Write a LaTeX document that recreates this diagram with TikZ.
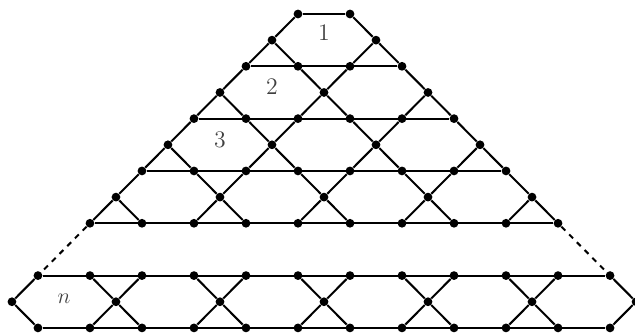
\documentclass[tikz,border=0pt]{standalone}
\usepackage{tikz}

\begin{document}
\begin{tikzpicture}[
  x=0.5cm, y=-0.503cm,
  dot/.style={circle, fill=black, inner sep=0pt, minimum size=4.8pt},
  edge/.style={line width=1.1pt, draw=black},
  lbl/.style={font=\fontsize{13}{15}\selectfont, text=black!75}
]
\useasboundingbox (-12.46,-0.535) rectangle (11.96,12.24);

% --- Rows of the triangle ---
\foreach \v in {0,2,4,6,8} {
  \pgfmathtruncatemacro\lo{11-\v}
  \pgfmathtruncatemacro\nx{13-\v}
  \pgfmathtruncatemacro\hi{13+\v}
  \foreach \i in {\lo,\nx,...,\hi}
    \node[dot] (n\v-\i) at (\i-12,\v) {};
}

% --- Last band ---
\foreach \v in {10,12}
  \foreach \i in {1,3,...,23}
    \node[dot] (n\v-\i) at (\i-12,\v) {};

% --- Middle vertices ---
\foreach \v in {1,3,5,7,11} {
  \pgfmathtruncatemacro\lo{11-\v}
  \pgfmathtruncatemacro\nx{15-\v}
  \pgfmathtruncatemacro\hi{13+\v}
  \foreach \i in {\lo,\nx,...,\hi}
    \node[dot] (n\v-\i) at (\i-12,\v) {};
}

% --- Horizontal edges ---
\foreach \v in {0,2,4,6,8} {
  \pgfmathtruncatemacro\lo{11-\v}
  \pgfmathtruncatemacro\hi{13+\v}
  \draw[edge] (n\v-\lo) -- (n\v-\hi);
}
\draw[edge] (n10-1) -- (n10-23);
\draw[edge] (n12-1) -- (n12-23);

% --- Diagonal edges ---
\foreach \v in {1,3,5,7,11} {
  \pgfmathtruncatemacro\lo{11-\v}
  \pgfmathtruncatemacro\nx{15-\v}
  \pgfmathtruncatemacro\hi{13+\v}
  \pgfmathtruncatemacro\up{\v-1}
  \pgfmathtruncatemacro\dn{\v+1}
  \foreach \i in {\lo,\nx,...,\hi} {
    \foreach \d in {-1,1} {
      \pgfmathtruncatemacro\j{\i+\d}
      \ifnum\j>\numexpr11-\v\relax \ifnum\j<\numexpr13+\v\relax
        \draw[edge] (n\v-\i) -- (n\up-\j);
      \fi\fi
      \ifnum\j>0 \ifnum\j<24
        \draw[edge] (n\v-\i) -- (n\dn-\j);
      \fi\fi
    }
  }
}

% --- Gap ---
\draw[edge, dashed] (n8-3) -- (n10-1);
\draw[edge, dashed] (n8-21) -- (n10-23);

% --- Labels ---
\node[lbl] (lab1) at (0,0.73) {1};
\node[lbl] (lab2) at (-2,2.78) {2};
\node[lbl] (lab3) at (-4,4.8) {3};
\node[lbl] (labn) at (-10,10.88) {$n$};

\end{tikzpicture}
\end{document}
